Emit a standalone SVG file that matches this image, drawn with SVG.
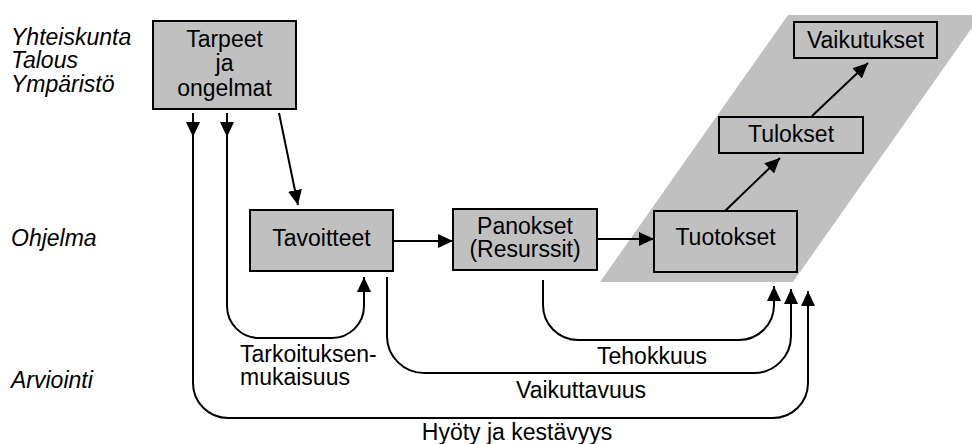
<svg xmlns="http://www.w3.org/2000/svg" width="972" height="444" viewBox="0 0 972 444">
<style>
text{font-family:"Liberation Sans",Arial,sans-serif;font-size:23px;fill:#000}
.it{font-style:italic}
.c{text-anchor:middle}
.box{fill:#c0c0c0;stroke:#000;stroke-width:2}
.ln{fill:none;stroke:#000;stroke-width:2}
</style>
<defs>
<marker id="ah" markerUnits="userSpaceOnUse" markerWidth="15" markerHeight="14" refX="15" refY="7" orient="auto">
<path d="M0,0 L15,7 L0,14 z" fill="#000"/>
</marker>
</defs>
<rect width="972" height="444" fill="#fff"/>
<polygon points="788,15 981,15 793,282 600,282" fill="#c0c0c0"/>
<g id="labels">
<text class="it" x="11" y="45">Yhteiskunta</text>
<text class="it" x="11" y="68">Talous</text>
<text class="it" x="11" y="92">Ympäristö</text>
<text class="it" x="11" y="246">Ohjelma</text>
<text class="it" x="11" y="388">Arviointi</text>
</g>
<g id="tarpeet">
<rect class="box" x="153" y="21" width="143" height="88"/>
<text class="c" x="224.5" y="47">Tarpeet</text>
<text class="c" x="224.5" y="71">ja</text>
<text class="c" x="224.5" y="96">ongelmat</text>
</g>
<g id="tavoitteet">
<rect class="box" x="250" y="210" width="143" height="61"/>
<text class="c" x="321.5" y="246">Tavoitteet</text>
</g>
<g id="panokset">
<rect class="box" x="453" y="209" width="144" height="61"/>
<text class="c" x="525" y="234">Panokset</text>
<text class="c" x="525" y="257">(Resurssit)</text>
</g>
<g id="tuotokset">
<rect class="box" x="654" y="211" width="143" height="61"/>
<text class="c" x="725.5" y="245">Tuotokset</text>
</g>
<g id="tulokset">
<rect class="box" x="719" y="117" width="144" height="36"/>
<text class="c" x="791" y="142">Tulokset</text>
</g>
<g id="vaikutukset">
<rect class="box" x="794" y="22" width="143" height="36"/>
<text class="c" x="865.5" y="48">Vaikutukset</text>
</g>
<g id="connectors">
<path class="ln" d="M193,113 V137" marker-end="url(#ah)"/>
<path class="ln" d="M227,113 V137" marker-end="url(#ah)"/>
<path class="ln" d="M279,113 L298,205" marker-end="url(#ah)"/>
<path class="ln" d="M393,241 H453" marker-end="url(#ah)"/>
<path class="ln" d="M597,239 H654" marker-end="url(#ah)"/>
<path class="ln" d="M725,211 L780,158" marker-end="url(#ah)"/>
<path class="ln" d="M812,116 L868,63" marker-end="url(#ah)"/>
<path class="ln" d="M227,137 V306 A32,32 0 0 0 259,338 H332 A32,32 0 0 0 364,306 V277" marker-end="url(#ah)"/>
<path class="ln" d="M387,277 V336 A37,37 0 0 0 424,373 H754 A37,37 0 0 0 791,336 V289" marker-end="url(#ah)"/>
<path class="ln" d="M543,280 V305 A35,35 0 0 0 578,340 H739 A35,35 0 0 0 774,305 V286" marker-end="url(#ah)"/>
<path class="ln" d="M193,137 V383 A35,35 0 0 0 228,418 H773 A35,35 0 0 0 808,383 V291" marker-end="url(#ah)"/>
</g>
<g id="connector-labels">
<text x="240" y="362">Tarkoituksen-</text>
<text x="240" y="385">mukaisuus</text>
<text class="c" x="652" y="364">Tehokkuus</text>
<text class="c" x="581" y="398">Vaikuttavuus</text>
<text class="c" x="517" y="440">Hyöty ja kestävyys</text>
</g>
</svg>
